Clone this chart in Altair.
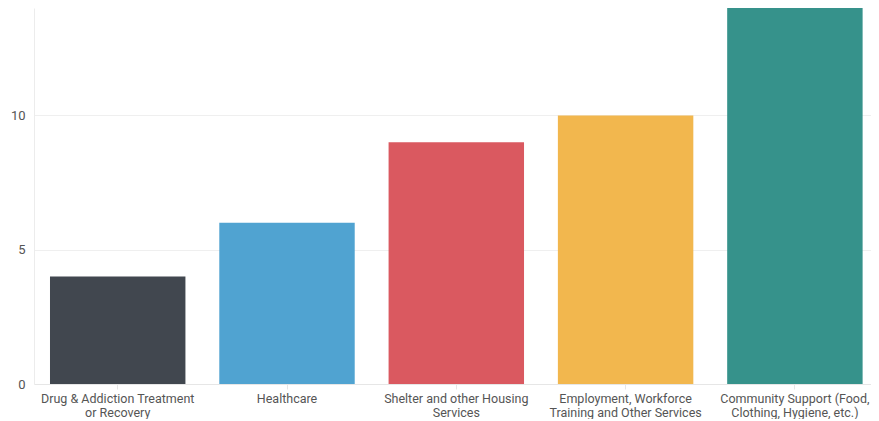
import altair as alt
import pandas as pd

categories = [
    "Drug & Addiction Treatment|or Recovery",
    "Healthcare",
    "Shelter and other Housing|Services",
    "Employment, Workforce|Training and Other Services",
    "Community Support (Food,|Clothing, Hygiene, etc.)",
]
values = [4, 6, 9, 10, 14]
colors = ["#3b4149", "#4aa0cf", "#d9545b", "#f2b548", "#2f8e87"]

df = pd.DataFrame({"category": categories, "value": values})

chart = alt.Chart(df).mark_bar(opacity=0.97).encode(
    x=alt.X(
        "category:N",
        sort=categories,
        title=None,
        scale=alt.Scale(paddingInner=0.2, paddingOuter=0.072, align=0.656),
        axis=alt.Axis(
            labelAngle=0,
            labelExpr="split(datum.label, '|')",
            labelFont="Roboto",
            labelFontSize=12.5,
            labelColor="#555555",
            labelLineHeight=14,
            labelPadding=3,
            domainColor="#e6e6e6",
            tickColor="#e6e6e6",
            tickSize=5,
            grid=False,
        ),
    ),
    y=alt.Y(
        "value:Q",
        title=None,
        scale=alt.Scale(domain=[0, 14], nice=False),
        axis=alt.Axis(
            values=[0, 5, 10],
            labelFont="Roboto",
            labelFontSize=13,
            labelColor="#555555",
            labelPadding=9,
            minExtent=26,
            maxExtent=26,
            ticks=False,
            domainColor="#ececec",
            gridColor="#efefef",
        ),
    ),
    color=alt.Color("category:N", sort=categories, scale=alt.Scale(domain=categories, range=colors), legend=None),
).properties(width=837, height=376, padding=0).configure_view(stroke=None)

chart.save("out.html", embed_options={"renderer": "svg", "actions": False})
